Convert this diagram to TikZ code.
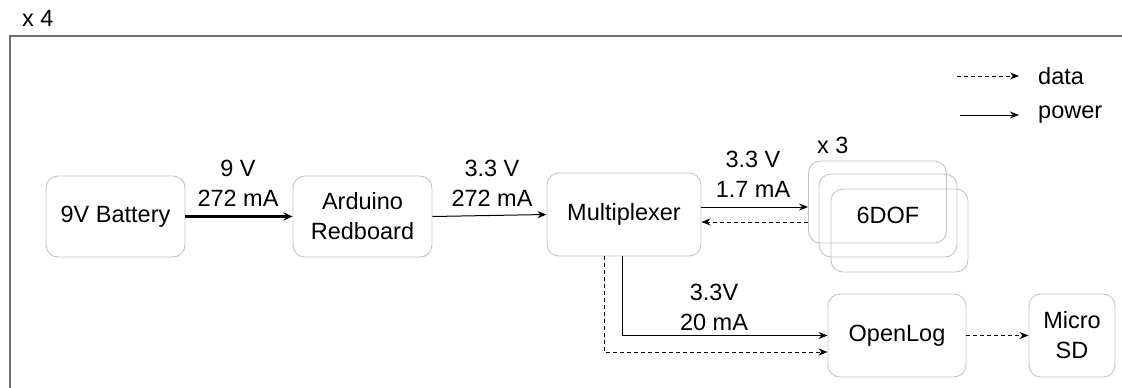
\documentclass[tikz,border=0pt]{standalone}
\usepackage{fontspec}
\setmainfont{Liberation Sans}
\usetikzlibrary{arrows.meta}
\begin{document}
\begin{tikzpicture}[x=1pt,y=-1pt,
  every node/.style={font=\fontsize{23.5}{30}\selectfont, inner sep=0pt},
  blk/.style={draw=boxgray, line width=0.9pt, rounded corners=12pt, align=center},
  lbl/.style={align=center},
  power/.style={draw=black, line width=1pt, -{Stealth[length=9pt,width=7pt]}},
  bigpower/.style={draw=black, line width=3pt, -{Stealth[length=9pt,width=8pt]}},
  data/.style={draw=black, line width=0.9pt, dash pattern=on 4pt off 3pt, -{Stealth[length=9pt,width=7pt]}}]
\definecolor{boxgray}{HTML}{C4C4C4}
\definecolor{framegray}{HTML}{6E6E6E}
\useasboundingbox (0,0) rectangle (1122,388);
% frame
\coordinate (frTR) at (1122,36);
\coordinate (frTL) at (10,36);
\coordinate (frBL) at (10,388);
\draw[framegray, line width=1.2pt] (frTR) -- (frTL) -- (frBL);
\node[anchor=west] (x4) at (22,18) {x 4};
% blocks
\node[blk, minimum width=139pt, minimum height=81pt] (bat) at (115.5,216.5) {9V Battery};
\node[blk, minimum width=139pt, minimum height=81pt] (ard) at (362.5,216.5) {Arduino\\Redboard};
\node[blk, minimum width=154pt, minimum height=83pt] (mux) at (624,214.5) {Multiplexer};
\node[blk, minimum width=138pt, minimum height=82pt] (dofA) at (877.5,202) {};
\node[blk, minimum width=138pt, minimum height=83pt] (dofB) at (888,215.5) {6DOF};
\node[blk, minimum width=137pt, minimum height=83pt] (dofC) at (899.5,230.5) {};
\node[anchor=west] (x3) at (817,145) {x 3};
\node[blk, minimum width=138pt, minimum height=83pt] (olog) at (897,335.5) {OpenLog};
\node[blk, minimum width=86pt, minimum height=83pt] (sd) at (1072,335.5) {Micro\\SD};
% labels
\node[lbl] (l1) at (238,183.5) {9 V\\272 mA};
\node[lbl] (l2) at (492,183.5) {3.3 V\\272 mA};
\node[lbl] (l3) at (753,174) {3.3 V\\1.7 mA};
\node[lbl] (l4) at (714,307) {3.3V\\20 mA};
% connectors
\draw[bigpower] (bat.east) -- (ard.west);
\draw[power] (ard.east) -- (mux.west);
\draw[power] ([yshift=7.5pt]mux.east) -- ([yshift=7.5pt]mux.east -| dofA.west);
\draw[data] ([yshift=-7.5pt]mux.east -| dofA.west) -- ([yshift=-7.5pt]mux.east);
\draw[power] ([xshift=-2pt]mux.south) |- (olog.west);
\draw[data] ([xshift=-20pt]mux.south) |- ([yshift=-16.5pt]olog.west);
\draw[data] (olog.east) -- (sd.west);
% legend
\coordinate (ld1) at (957,76);
\coordinate (ld2) at (1019,76);
\coordinate (lp1) at (960,115);
\coordinate (lp2) at (1019,115);
\draw[data] (ld1) -- (ld2);
\draw[power] (lp1) -- (lp2);
\node[anchor=west] (ldata) at (1038,76) {data};
\node[anchor=west] (lpower) at (1038,115) {power};
\end{tikzpicture}
\end{document}
